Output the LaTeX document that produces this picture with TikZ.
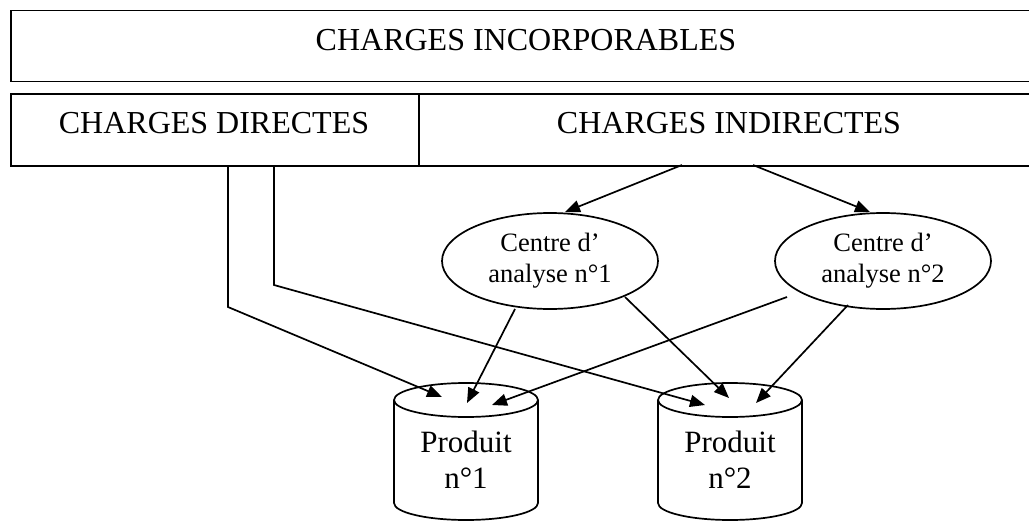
\documentclass[tikz,border=0pt]{standalone}
\usepackage{fontspec}
\setmainfont{Liberation Serif}
\usetikzlibrary{arrows.meta,shapes.geometric}
\begin{document}
\begin{tikzpicture}[x=1pt,y=-1pt,
  line width=1.7pt,
  box/.style={draw, rectangle, inner sep=0pt, anchor=north west},
  head/.style={font=\fontsize{32}{36}\selectfont, anchor=base, inner sep=0pt},
  centre/.style={draw, ellipse, minimum width=216pt, minimum height=96pt,
    inner sep=0pt, align=center, font=\fontsize{26.5}{31}\selectfont},
  prod/.style={align=center, inner sep=0pt, font=\fontsize{31}{36}\selectfont},
  arr/.style={-{Triangle[length=15pt,width=12pt]}},
  link/.style={line join=miter}]
\clip (0,0) rectangle (1029,522);

% header boxes
\node[box, minimum width=1032pt, minimum height=71pt] (inc) at (10,9.5) {};
\node[box, minimum width=408pt, minimum height=72pt] (dir) at (10,93) {};
\node[box, minimum width=624pt, minimum height=72pt] (ind) at (418,93) {};
\node[head] (tinc) at (526,50) {CHARGES INCORPORABLES};
\node[head] (tdir) at (214,133) {CHARGES DIRECTES};
\node[head] (tind) at (729,133) {CHARGES INDIRECTES};

% analysis centres
\node[centre] (e1) at (550,261) {Centre d’\\analyse n°1};
\node[centre] (e2) at (883,261) {Centre d’\\analyse n°2};

% products (cylinders)
\node[prod] (p1) at (466,459.5) {Produit\\n°1};
\node[prod] (p2) at (730,459.5) {Produit\\n°2};
\draw (394,400) -- (394,503) arc[start angle=180,end angle=360,x radius=72pt,y radius=17pt] -- (538,400);
\draw (466,400) ellipse [x radius=72pt, y radius=17pt];
\draw (658,400) -- (658,503) arc[start angle=180,end angle=360,x radius=72pt,y radius=17pt] -- (802,400);
\draw (730,400) ellipse [x radius=72pt, y radius=17pt];

% connection points
\coordinate (d1) at (228,165);
\coordinate (d1b) at (228,307);
\coordinate (d2) at (274,165);
\coordinate (d2b) at (274,285);
\coordinate (i1) at (682,165);
\coordinate (i2) at (753,165);
\coordinate (e1in) at (565,212);
\coordinate (e2in) at (870,212);
\coordinate (e1o1) at (515,309);
\coordinate (e1o2) at (625,297);
\coordinate (e2o1) at (787,297);
\coordinate (e2o2) at (848,305);
\coordinate (p1a) at (442,397);
\coordinate (p1b) at (467,403);
\coordinate (p1c) at (492,405);
\coordinate (p2a) at (705,405);
\coordinate (p2b) at (729,398);
\coordinate (p2c) at (756,403);

% connectors
\draw[arr, link] (d1) -- (d1b) -- (p1a);
\draw[arr, link] (d2) -- (d2b) -- (p2a);
\draw[arr] (i1) -- (e1in);
\draw[arr] (i2) -- (e2in);
\draw[arr] (e1o1) -- (p1b);
\draw[arr] (e1o2) -- (p2b);
\draw[arr] (e2o1) -- (p1c);
\draw[arr] (e2o2) -- (p2c);
\end{tikzpicture}
\end{document}
